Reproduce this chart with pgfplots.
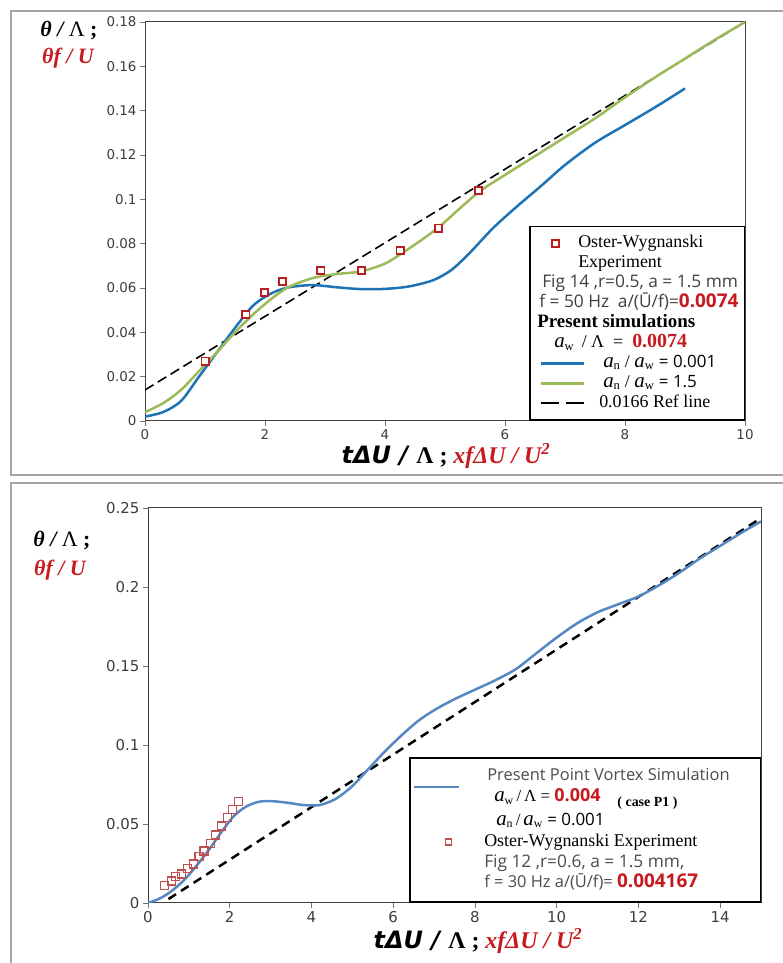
\documentclass[border=0pt]{standalone}
\usepackage{fontspec}
\setmainfont{Liberation Serif}
\newfontfamily\dvs{DejaVu Sans}
\newfontfamily\osans{Open Sans}
\usepackage{pgfplots}
\pgfplotsset{compat=1.18}

\definecolor{topblue}{RGB}{30,115,180}
\definecolor{topgreen}{RGB}{155,187,89}
\definecolor{markred}{RGB}{185,30,30}
\definecolor{botblue}{RGB}{85,135,195}
\definecolor{botred}{RGB}{192,80,77}
\definecolor{labred}{RGB}{200,25,30}
\definecolor{tickgray}{RGB}{60,60,60}
\definecolor{framegray}{RGB}{165,165,165}

\newcommand\ent[2]{\makebox[#1][l]{#2}}
\newcommand\aw{{\fontsize{21}{21}\selectfont\textit{a}}\textsubscript{w}}
\newcommand\an{{\fontsize{21}{21}\selectfont\textit{a}}\textsubscript{n}}
\newcommand\ssm{\osans\fontsize{17.4}{19}\selectfont\color{black!75}}
\newcommand\xlab{{\dvs\bfseries\itshape tΔU / }{\bfseries Λ ; }{\color{labred}\bfseries\itshape xfΔU / U\textsuperscript{2}}}

\pgfplotsset{
  limgA/.style={legend image code/.code={\path[draw=none,fill=none] (0bp,0bp) -- (58bp,0bp);\draw[##1] (0bp,0bp) -- (43bp,0bp);}},
  simgA/.style={legend image code/.code={\path[draw=none,fill=none] (0bp,0bp) -- (58bp,0bp);\draw[##1] plot coordinates {(14bp,0bp)};}},
  limgB/.style={legend image code/.code={\path[draw=none,fill=none] (0bp,0bp) -- (70bp,0bp);\draw[##1] (0bp,12bp) -- (45bp,12bp);}},
  simgB/.style={legend image code/.code={\path[draw=none,fill=none] (0bp,0bp) -- (70bp,0bp);\draw[##1] plot coordinates {(34bp,0bp)};}},
  common/.style={
    scale only axis,
    axis line style={black!75, line width=1bp},
    tick align=outside, xtick pos=left, ytick pos=left,
    major tick length=5bp,
    tick style={black!55, line width=0.8bp},
    scaled y ticks=false,
    /pgf/number format/assume math mode=true,
    /pgf/number format/fixed,
    /pgf/number format/precision=2,
    legend cell align=left,
  },
}

\begin{document}
\begin{tikzpicture}[x=1bp,y=1bp]
\useasboundingbox (0,0) rectangle (783,963);
\draw[framegray, line width=1.5bp] (800,952) -- (11,952) -- (11,488) -- (800,488);
\draw[framegray, line width=1.5bp] (800,480) -- (11,480) -- (11,-10);

% top panel
\begin{axis}[common,
  at={(145bp,542bp)}, anchor=south west,
  width=600bp, height=399bp,
  xmin=0, xmax=10, ymin=0, ymax=0.18,
  xtick={0,2,...,10},
  ytick={0,0.02,0.04,0.06,0.08,0.1,0.12,0.14,0.16,0.18},
  tick label style={font=\dvs\fontsize{13.5}{15}\selectfont, text=tickgray},
  legend style={at={(1,0)}, anchor=south east, draw=black, line width=1.5bp,
    fill=white, inner xsep=10bp, inner ysep=7bp,
    nodes={inner sep=0pt, text depth=},
    font=\fontsize{18}{20}\selectfont},
]
\addlegendimage{simgA, mark=square*, mark options={draw=markred, fill=white}, line width=1.8bp, mark size=3.6bp}
\addlegendentry{\strut\ent{135bp}{\hspace*{-21bp}Oster-Wygnanski}}
\addlegendimage{empty legend}
\addlegendentry{\strut\ent{135bp}{\hspace*{-21bp}Experiment}}
\addlegendimage{empty legend}
\addlegendentry{\strut\ent{135bp}{\hspace*{-57bp}{\ssm Fig 14 ,r=0.5, a = 1.5 mm}}}
\addlegendimage{empty legend}
\addlegendentry{\strut\ent{135bp}{\hspace*{-60bp}{\ssm f = 50 Hz\enspace a/(Ū/f)=\textcolor{labred}{\fontsize{19}{19}\selectfont\bfseries 0.0074}}}}
\addlegendimage{empty legend}
\addlegendentry{\strut\ent{135bp}{\hspace*{-62bp}{\fontsize{19}{20}\selectfont\bfseries Present simulations}}}
\addlegendimage{empty legend}
\addlegendentry{\strut\ent{135bp}{\hspace*{-45bp}\aw\ \,/\ Λ\enspace=\enspace\textcolor{labred}{\fontsize{20}{20}\selectfont\bfseries 0.0074}}}
\addlegendimage{limgA, topblue, line width=2.5bp}
\addlegendentry{\strut\ent{135bp}{\hspace*{4bp}\an\ /\ \aw{} {\osans\fontsize{17}{18}\selectfont= 0.001}}}
\addlegendimage{limgA, topgreen, line width=2.5bp}
\addlegendentry{\strut\ent{135bp}{\hspace*{4bp}\an\ /\ \aw{} {\osans\fontsize{17}{18}\selectfont= 1.5}}}
\addlegendimage{limgA, black, line width=1.8bp, dash pattern=on 18bp off 7bp}
\addlegendentry{\strut\ent{135bp}{0.0166 Ref line}}

\addplot[forget plot, black, line width=1.6bp, dash pattern=on 10bp off 5bp]
  coordinates {(0,0.014)(10,0.180)};
\addplot[forget plot, smooth, topblue, line width=2.5bp] coordinates {
  (0,0.002)(0.3,0.004)(0.6,0.009)(0.9,0.020)(1.2,0.031)(1.5,0.042)(1.8,0.052)
  (2.1,0.0575)(2.4,0.0603)(2.8,0.0613)(3.2,0.0603)(3.6,0.0595)(4.0,0.0596)
  (4.4,0.0607)(4.8,0.0635)(5.1,0.068)(5.4,0.0755)(5.8,0.087)(6.2,0.0968)
  (6.6,0.106)(7.0,0.1155)(7.5,0.1255)(8.0,0.1335)(8.5,0.1415)(9.0,0.150)};
\addplot[forget plot, smooth, topgreen, line width=2.5bp] coordinates {
  (0,0.004)(0.3,0.008)(0.6,0.014)(0.9,0.0225)(1.2,0.031)(1.5,0.040)(1.8,0.048)
  (2.1,0.055)(2.4,0.0605)(2.8,0.0645)(3.2,0.0663)(3.6,0.0675)(4.0,0.0710)
  (4.3,0.0760)(4.6,0.0815)(4.9,0.0875)(5.25,0.0960)(5.6,0.1040)(6.0,0.1110)
  (6.5,0.1195)(7.0,0.1280)(7.5,0.1365)(8.0,0.1460)(8.5,0.1550)(9.0,0.1635)
  (9.5,0.1720)(10,0.1800)};
\addplot[forget plot, only marks, mark=square*, mark size=3.6bp,
  mark options={draw=markred, fill=white}, line width=1.8bp] coordinates {
  (1.0,0.027)(1.68,0.048)(1.99,0.058)(2.29,0.063)(2.93,0.068)(3.61,0.068)
  (4.25,0.077)(4.89,0.087)(5.56,0.104)};
\end{axis}

% bottom panel
\begin{axis}[common,
  at={(148bp,60bp)}, anchor=south west,
  width=613bp, height=395bp,
  xmin=0, xmax=15, ymin=0, ymax=0.25,
  xtick={0,2,...,14},
  ytick={0,0.05,0.1,0.15,0.2,0.25},
  tick label style={font=\dvs\fontsize{15}{17}\selectfont, text=tickgray},
  legend style={at={(1,0)}, anchor=south east, draw=black, line width=1.5bp,
    fill=white, inner xsep=3bp, inner ysep=8bp,
    nodes={inner sep=0pt, text depth=},
    font=\fontsize{17}{21}\selectfont},
]
\addlegendimage{limgB, botblue, line width=2.5bp}
\addlegendentry[align=left]{\strut\ent{273bp}{\hspace*{3bp}{\osans\fontsize{16.5}{18}\selectfont\color{black!70}Present Point Vortex Simulation}}\\
  \strut\ent{273bp}{\hspace*{10bp}\aw\,/\,Λ = \textcolor{labred}{\osans\fontsize{18}{18}\selectfont\bfseries 0.004}\quad\raisebox{-5bp}{\fontsize{14}{14}\selectfont\bfseries ( case P1 )}}\\
  \strut\ent{273bp}{\hspace*{12bp}\an\,/\,\aw{} {\osans = 0.001}}}
\addlegendimage{simgB, mark=square*, mark options={draw=botred, fill=white}, line width=1.5bp, mark size=3bp}
\addlegendentry{\strut\ent{273bp}{{\fontsize{18}{20}\selectfont Oster-Wygnanski Experiment}}}
\addlegendimage{empty legend}
\addlegendentry{\strut\ent{273bp}{{\osans\fontsize{17.4}{19}\selectfont\color{black!70}Fig 12 ,r=0.6, a = 1.5 mm,}}}
\addlegendimage{empty legend}
\addlegendentry{\strut\ent{273bp}{{\osans\fontsize{16.5}{18}\selectfont\color{black!70}f = 30 Hz a/(Ū/f)= \textcolor{labred}{\fontsize{19}{19}\selectfont\bfseries 0.004167}}}}

\addplot[forget plot, black, line width=2.5bp, dash pattern=on 9bp off 6bp]
  coordinates {(0.5,0.0025)(15,0.2436)};
\addplot[forget plot, smooth, botblue, line width=2.5bp] coordinates {
  (0,0)(0.3,0.003)(0.6,0.008)(0.9,0.015)(1.2,0.024)(1.5,0.034)(1.8,0.045)
  (2.1,0.055)(2.4,0.061)(2.7,0.064)(3.0,0.0645)(3.4,0.0635)(3.8,0.062)
  (4.2,0.062)(4.6,0.066)(5.0,0.074)(5.4,0.085)(5.8,0.096)(6.2,0.106)
  (6.6,0.115)(7.0,0.122)(7.5,0.129)(8.0,0.135)(8.5,0.141)(9.0,0.148)
  (9.5,0.158)(10.0,0.168)(10.5,0.177)(11.0,0.184)(11.5,0.189)(12.0,0.194)
  (12.5,0.201)(13.0,0.209)(13.5,0.218)(14.0,0.226)(14.5,0.234)(15,0.2415)};
\addplot[forget plot, only marks, mark=square, mark size=4bp, color=botred,
  line width=1.2bp] coordinates {
  (0.40,0.0109)(0.58,0.0139)(0.68,0.0167)(0.81,0.0184)(0.97,0.0219)
  (1.11,0.0247)(1.25,0.0293)(1.37,0.0329)(1.52,0.0377)(1.66,0.0430)
  (1.79,0.0487)(1.95,0.0542)(2.07,0.0592)(2.22,0.0640)};
\end{axis}

% axis titles
\node[fill=white, inner xsep=2bp, inner ysep=3bp, font=\fontsize{22}{24}\selectfont] at (69,932)
  {{\bfseries\itshape θ / }Λ{\bfseries\ ;}};
\node[fill=white, inner xsep=2bp, inner ysep=3bp, font=\fontsize{22}{24}\selectfont, text=labred] at (68,905)
  {\bfseries\itshape θf / U};
\node[font=\fontsize{24}{26}\selectfont] at (446,507) {\xlab};
\node[font=\fontsize{22}{24}\selectfont] at (62,422)
  {{\bfseries\itshape θ / }Λ{\bfseries\ ;}};
\node[font=\fontsize{22}{24}\selectfont, text=labred] at (60,393)
  {\bfseries\itshape θf / U};
\node[font=\fontsize{24}{26}\selectfont] at (478,22) {\xlab};
\end{tikzpicture}
\end{document}
